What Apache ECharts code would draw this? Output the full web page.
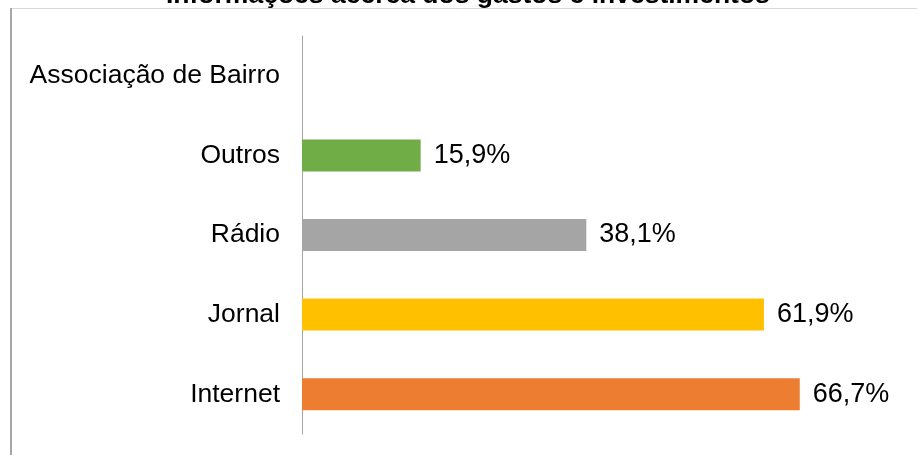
<!DOCTYPE html>
<html>
<head>
<meta charset="utf-8">
<script src="https://cdn.jsdelivr.net/npm/echarts@6/dist/echarts.min.js"></script>
<style>
  html, body { margin: 0; padding: 0; background: #fff; }
  #main { width: 918px; height: 455px; }
</style>
</head>
<body>
<div id="main"></div>
<script>
var titleText = 'Informações acerca dos gastos e investimentos';
// de baixo para cima
var categories = ['Internet', 'Jornal', 'Rádio', 'Outros', 'Associação de Bairro'];
var values = [66.7, 61.9, 38.1, 15.9, null];
var colors = ['#ED7D31', '#FFC000', '#A5A5A5', '#70AD47', '#5B9BD5'];

var chart = echarts.init(document.getElementById('main'));

var option = {
    animation: false,
    textStyle: { fontFamily: 'Liberation Sans, Arial, sans-serif' },
    graphic: [
        // moldura do gráfico
        { type: 'line', shape: { x1: 10, y1: 8.5, x2: 917, y2: 8.5 }, style: { stroke: '#d9d9d9', lineWidth: 1 } },
        { type: 'line', shape: { x1: 11, y1: 8, x2: 11, y2: 455 }, style: { stroke: '#a6a6a6', lineWidth: 2 } },
        {
            type: 'text', left: 166, top: -18,
            style: { text: titleText, font: 'bold 26.5px Liberation Sans, Arial, sans-serif', fill: '#000' }
        }
    ],
    grid: { left: 302, right: 19, top: 36, bottom: 21 },
    xAxis: {
        type: 'value', min: 0, max: 80, show: false
    },
    yAxis: {
        type: 'category',
        data: categories,
        axisLine: { lineStyle: { color: '#a6a6a6', width: 1 } },
        axisTick: { show: false },
        axisLabel: { color: '#000', fontSize: 26.5, margin: 22 }
    },
    series: [{
        type: 'bar',
        barWidth: 32,
        data: values.map(function (v, i) {
            return { value: v, itemStyle: { color: colors[i] } };
        }),
        label: {
            show: true,
            position: 'right',
            distance: 13,
            color: '#000',
            fontSize: 27,
            formatter: function (p) {
                if (p.value == null) { return ''; }
                return p.value.toFixed(1).replace('.', ',') + '%';
            }
        }
    }]
};
chart.setOption(option);
</script>
</body>
</html>
